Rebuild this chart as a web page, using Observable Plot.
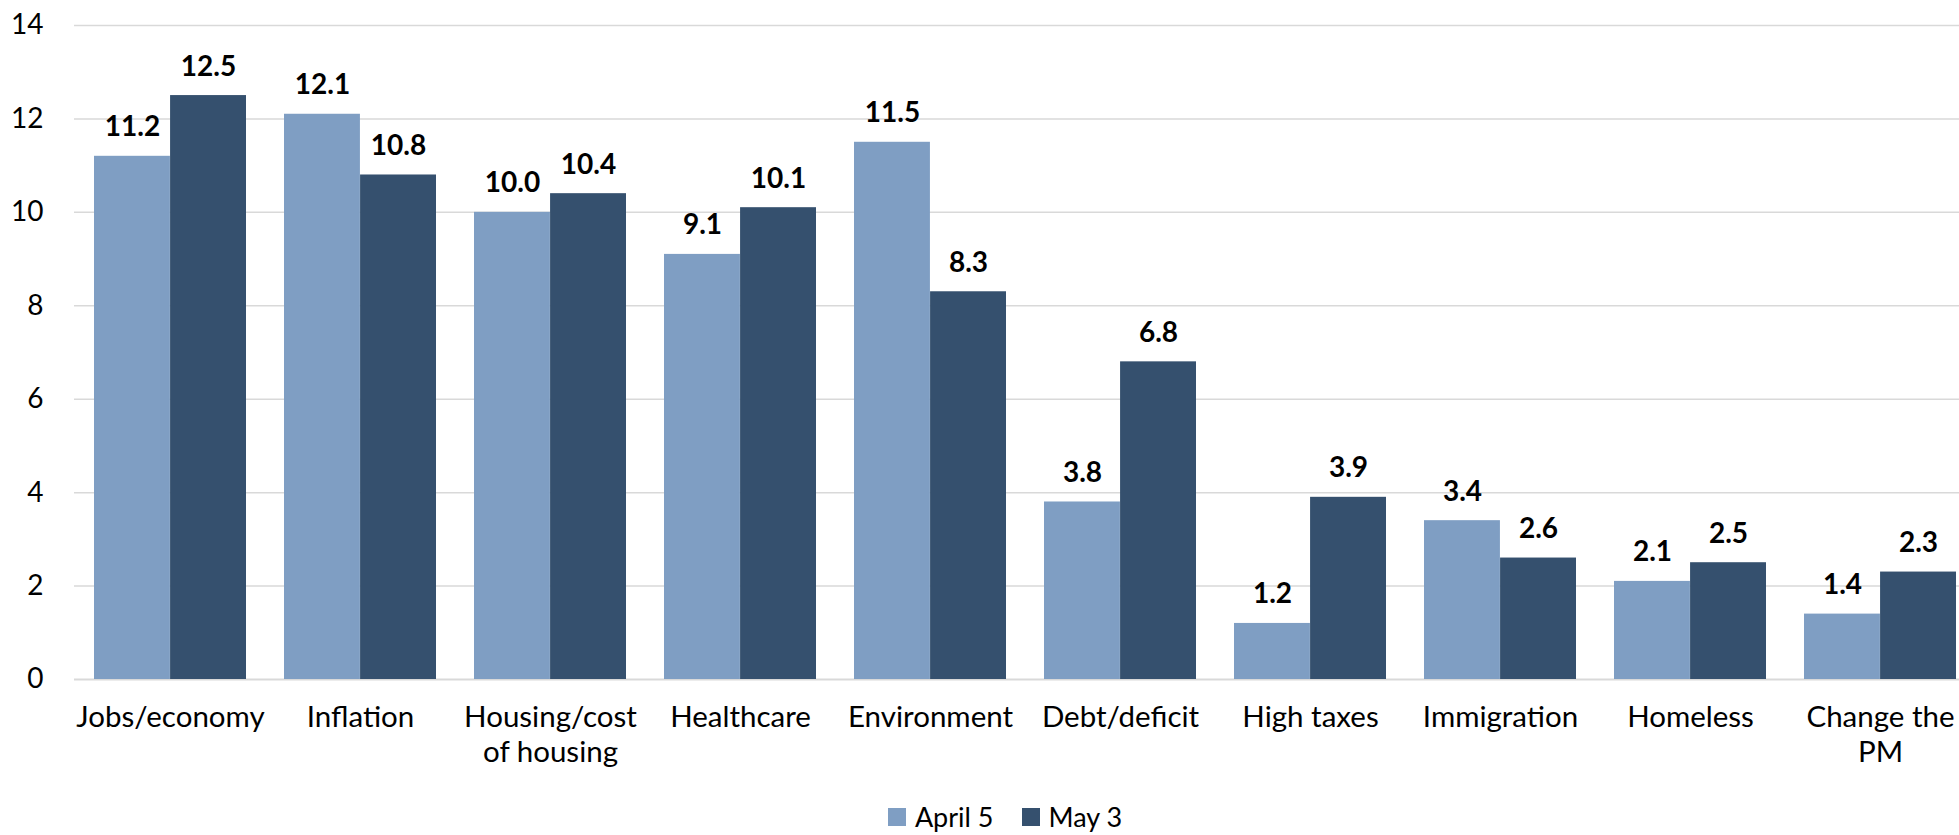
<!DOCTYPE html>
<html><head><meta charset="utf-8">
<script src="https://cdn.jsdelivr.net/npm/d3@7"></script>
<script src="https://cdn.jsdelivr.net/npm/@observablehq/plot@0.6"></script>
<style>
body{margin:0;background:#fff;font-family:Lato, sans-serif;}
#wrap{position:relative;width:1959px;height:835px;overflow:hidden;background:#fff;}
#legend{position:absolute;left:0;top:802px;width:1959px;height:30px;display:flex;justify-content:center;align-items:center;gap:28px;font-size:27px;line-height:30px;color:#000;padding-left:51px;box-sizing:border-box;}
.item{display:flex;align-items:center;gap:9px;}
.sw{width:18px;height:18px;display:inline-block;}
</style></head><body><div id="wrap"><div id="chart"></div><div id="legend"></div></div>
<script>
const categories = ["Jobs/economy","Inflation","Housing/cost of housing","Healthcare","Environment","Debt/deficit","High taxes","Immigration","Homeless","Change the PM"];
const tickLabels = ["Jobs/economy","Inflation","Housing/cost\nof housing","Healthcare","Environment","Debt/deficit","High taxes","Immigration","Homeless","Change the\nPM"];
const seriesNames = ["April 5","May 3"];
const april5 = [11.2,12.1,10.0,9.1,11.5,3.8,1.2,3.4,2.1,1.4];
const may3 = [12.5,10.8,10.4,10.1,8.3,6.8,3.9,2.6,2.5,2.3];
const colors = ["#7f9ec3","#35506e"];
const yTicks = [0,2,4,6,8,10,12,14];

const W=1959, H=795, ML=74, MR=-17, MT=25, MB=H-679;
const padI=0.2, padO=0.1;
const bw = d3.scaleBand().domain(categories).range([ML, W-MR]).paddingInner(padI).paddingOuter(padO).bandwidth();
const rows = categories.map((c,i)=>({category:c, april:april5[i], may:may3[i]}));

const plot = Plot.plot({
  width:W, height:H, marginLeft:ML, marginRight:MR, marginTop:MT, marginBottom:MB,
  style:{fontFamily:"Lato, sans-serif", fontSize:"28px", color:"#000", background:"#fff"},
  x:{domain:categories, paddingInner:padI, paddingOuter:padO, label:null},
  y:{domain:[0,14], ticks:yTicks, label:null},
  marks:[
    Plot.gridY(yTicks.filter(d=>d>0), {stroke:"#d9d9d9", strokeOpacity:1, strokeWidth:1.5}),
    Plot.ruleY([0], {stroke:"#d9d9d9", strokeOpacity:1, strokeWidth:2}),
    Plot.barY(rows, {x:"category", y:"april", fill:colors[0], insetRight:bw/2}),
    Plot.barY(rows, {x:"category", y:"may", fill:colors[1], insetLeft:bw/2}),
    Plot.text(rows, {x:"category", y:"april", text:d=>d.april.toFixed(1), dx:-bw/4, dy:-29, fontWeight:"bold", fontSize:28, fill:"#000"}),
    Plot.text(rows, {x:"category", y:"may", text:d=>d.may.toFixed(1), dx:bw/4, dy:-29, fontWeight:"bold", fontSize:28, fill:"#000"}),
    Plot.axisY({ticks:yTicks, tickSize:0, tickPadding:31, fontSize:28, label:null, fill:"#000"}),
    Plot.axisX({tickSize:0, tickPadding:22, fontSize:29.5, lineHeight:1.2, tickFormat:d=>tickLabels[categories.indexOf(d)], label:null, fill:"#000"})
  ]
});
document.getElementById("chart").appendChild(plot);

const legend = document.getElementById("legend");
seriesNames.forEach((n,i)=>{
  const it = document.createElement("div"); it.className="item";
  const sw = document.createElement("span"); sw.className="sw"; sw.style.background=colors[i];
  const t = document.createElement("span"); t.textContent=n;
  it.appendChild(sw); it.appendChild(t); legend.appendChild(it);
});
</script></body></html>
